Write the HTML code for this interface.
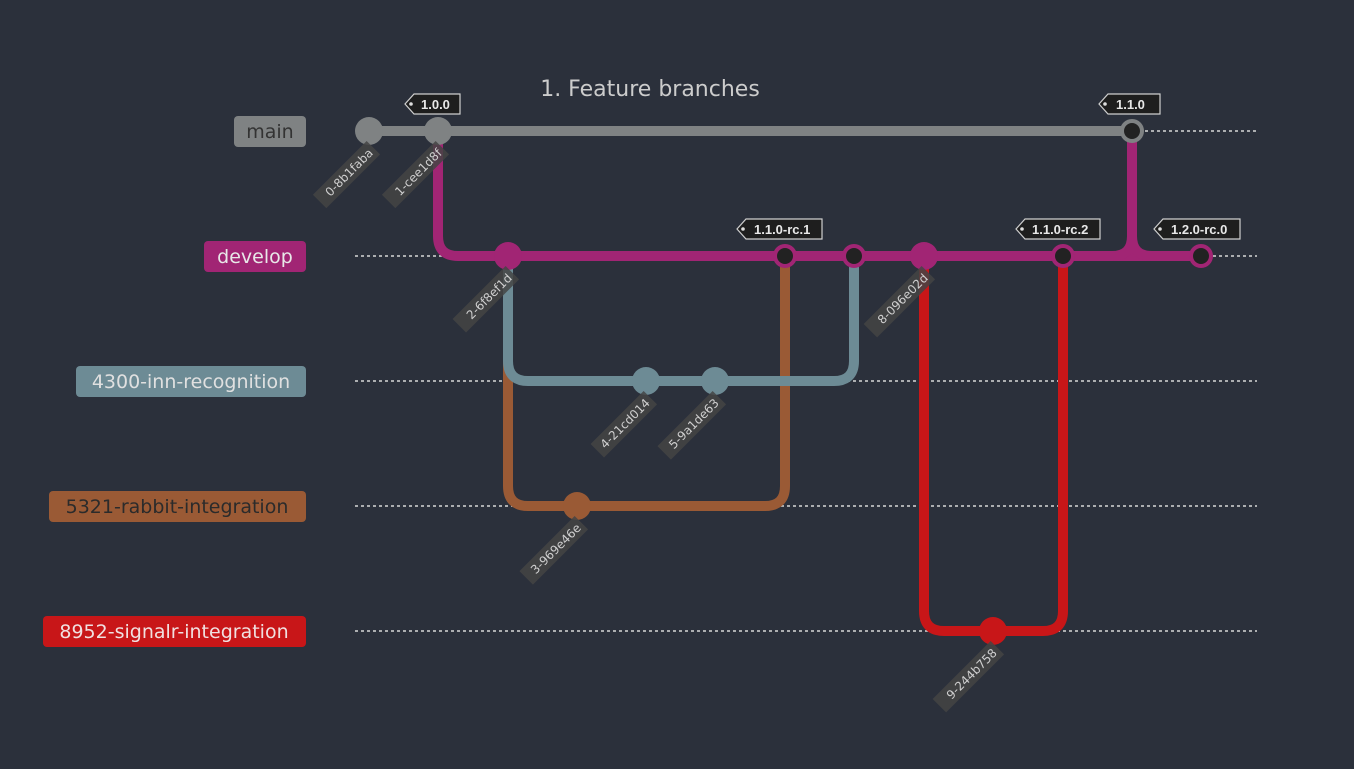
<!DOCTYPE html>
<html><head><meta charset="utf-8"><style>
html,body{margin:0;padding:0;background:#2b303b;}
svg{display:block;font-family:"DejaVu Sans","Liberation Sans",sans-serif;}
.cl{font-size:12px;fill:#cfcfcf;}
.tg{font-size:13px;font-weight:bold;fill:#e8e8e8;font-family:"Liberation Sans",sans-serif;}
.bl{font-size:19px;}
</style></head><body>
<svg width="1354" height="769" viewBox="0 0 1354 769" xmlns="http://www.w3.org/2000/svg">
<rect width="1354" height="769" fill="#2b303b"/>
<text x="650" y="96" text-anchor="middle" font-size="22" fill="#cccccc">1. Feature branches</text>
<g stroke="#d8d8d8" stroke-width="1.5" stroke-dasharray="3,3">
<line x1="1145" y1="131" x2="1257" y2="131"/>
<line x1="355" y1="256" x2="1257" y2="256"/>
<line x1="355" y1="381" x2="1257" y2="381"/>
<line x1="355" y1="506" x2="1257" y2="506"/>
<line x1="355" y1="631" x2="1257" y2="631"/>
</g>
<rect x="234" y="116" width="72" height="31" rx="4" fill="#7f8283"/><text class="bl" x="270" y="138" text-anchor="middle" fill="#333">main</text>
<rect x="204" y="241" width="102" height="31" rx="4" fill="#a12574"/><text class="bl" x="255" y="263" text-anchor="middle" fill="#e8e8e8">develop</text>
<rect x="76" y="366" width="230" height="31" rx="4" fill="#6d8b95"/><text class="bl" x="191" y="388" text-anchor="middle" fill="#e0e0e0">4300-inn-recognition</text>
<rect x="49" y="491" width="257" height="31" rx="4" fill="#9a5a35"/><text class="bl" x="177" y="513" text-anchor="middle" fill="#2b2b2b">5321-rabbit-integration</text>
<rect x="43" y="616" width="263" height="31" rx="4" fill="#c81618"/><text class="bl" x="174" y="638" text-anchor="middle" fill="#f0e0e0">8952-signalr-integration</text>
<g fill="none" stroke-width="10">
<path d="M508 256 V486 Q508 506 528 506 H765 Q785 506 785 486 V256" stroke="#9a5a35"/>
<path d="M508 256 V361 Q508 381 528 381 H834 Q854 381 854 361 V256" stroke="#6d8b95"/>
<path d="M924 256 V611 Q924 631 944 631 H1043 Q1063 631 1063 611 V256" stroke="#c81618"/>
<path d="M369 131 H1132" stroke="#7f8283"/>
<path d="M438 131 V236 Q438 256 458 256 H1201" stroke="#a12574"/>
<path d="M1132 131 V236 Q1132 256 1112 256 M1132 236 Q1132 256 1152 256" stroke="#a12574"/>
</g>
<g>
<circle cx="369" cy="131" r="14" fill="#7f8283"/>
<circle cx="438" cy="131" r="14" fill="#7f8283"/>
<circle cx="508" cy="256" r="14" fill="#a12574"/>
<circle cx="577" cy="506" r="14" fill="#9a5a35"/>
<circle cx="646" cy="381" r="14" fill="#6d8b95"/>
<circle cx="715" cy="381" r="14" fill="#6d8b95"/>
<circle cx="924" cy="256" r="14" fill="#a12574"/>
<circle cx="993" cy="631" r="14" fill="#c81618"/>
<g fill="#222" stroke="#a12574" stroke-width="4">
<circle cx="785" cy="256" r="10"/><circle cx="854" cy="256" r="10"/><circle cx="1063" cy="256" r="10"/><circle cx="1201" cy="256" r="10"/>
</g>
<circle cx="1132" cy="131" r="10" fill="#222" stroke="#7f8283" stroke-width="4"/>
</g>
<g class="cl">
<g transform="translate(373,153) rotate(-45)"><rect x="-72" y="-13" width="76" height="19" fill="#444" opacity="0.85"/><text x="0" y="1" text-anchor="end">0-8b1faba</text></g>
<g transform="translate(442,153) rotate(-45)"><rect x="-72" y="-13" width="76" height="19" fill="#444" opacity="0.85"/><text x="0" y="1" text-anchor="end">1-cee1d8f</text></g>
<g transform="translate(512,278) rotate(-45)"><rect x="-71" y="-13" width="75" height="19" fill="#444" opacity="0.85"/><text x="0" y="1" text-anchor="end">2-6f8ef1d</text></g>
<g transform="translate(581,528) rotate(-45)"><rect x="-74" y="-13" width="78" height="19" fill="#444" opacity="0.85"/><text x="0" y="1" text-anchor="end">3-969e46e</text></g>
<g transform="translate(650,403) rotate(-45)"><rect x="-71" y="-13" width="75" height="19" fill="#444" opacity="0.85"/><text x="0" y="1" text-anchor="end">4-21cd014</text></g>
<g transform="translate(719,403) rotate(-45)"><rect x="-74" y="-13" width="78" height="19" fill="#444" opacity="0.85"/><text x="0" y="1" text-anchor="end">5-9a1de63</text></g>
<g transform="translate(928,278) rotate(-45)"><rect x="-78" y="-13" width="82" height="19" fill="#444" opacity="0.85"/><text x="0" y="1" text-anchor="end">8-096e02d</text></g>
<g transform="translate(997,653) rotate(-45)"><rect x="-78" y="-13" width="82" height="19" fill="#444" opacity="0.85"/><text x="0" y="1" text-anchor="end">9-244b758</text></g>
</g>
<g stroke="#cfcfcf" stroke-width="1.2" fill="#1e1e1e">
<path d="M460 94 H414 L405 104 L414 114 H460 Z"/>
<path d="M1160 94 H1108 L1099 104 L1108 114 H1160 Z"/>
<path d="M822 219 H746 L737 229 L746 239 H822 Z"/>
<path d="M1100 219 H1025 L1016 229 L1025 239 H1100 Z"/>
<path d="M1240 219 H1163 L1154 229 L1163 239 H1240 Z"/>
</g>
<g fill="#ddd"><circle cx="411" cy="104" r="1.8"/><circle cx="1105" cy="104" r="1.8"/><circle cx="743" cy="229" r="1.8"/><circle cx="1022" cy="229" r="1.8"/><circle cx="1160" cy="229" r="1.8"/></g>
<g class="tg">
<text x="421" y="109">1.0.0</text>
<text x="1116" y="109">1.1.0</text>
<text x="754" y="234">1.1.0-rc.1</text>
<text x="1032" y="234">1.1.0-rc.2</text>
<text x="1171" y="234">1.2.0-rc.0</text>
</g>
</svg>
</body></html>
